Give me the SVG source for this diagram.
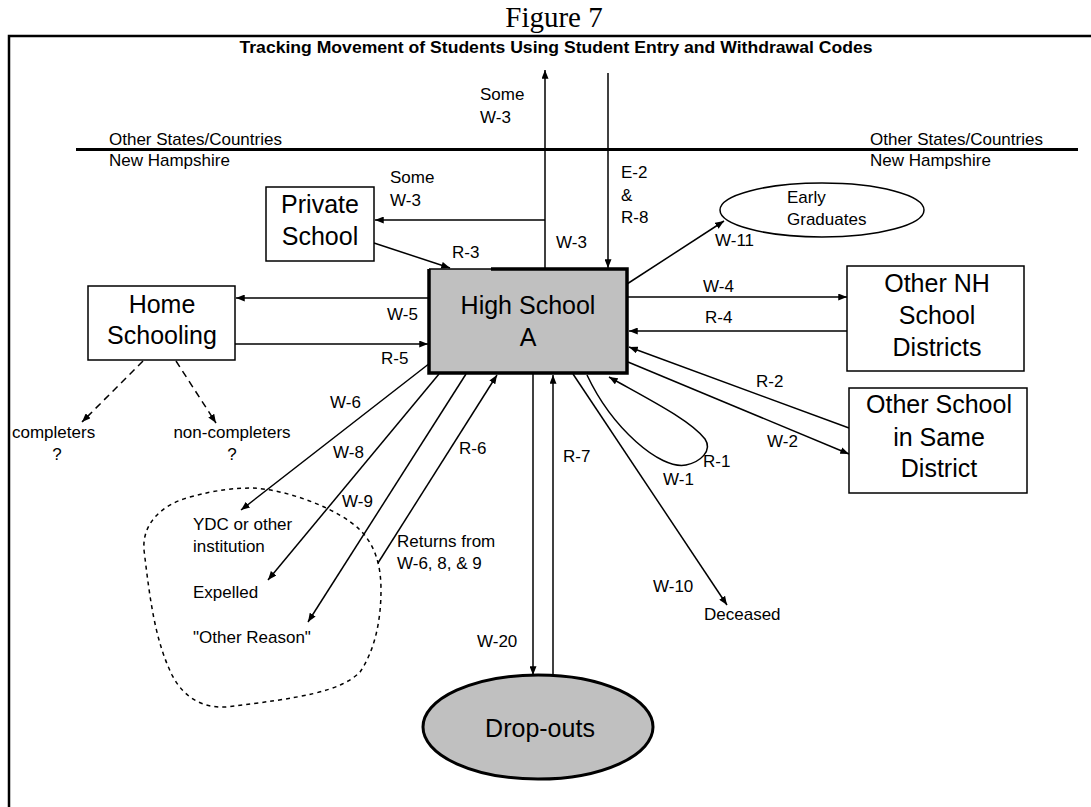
<svg xmlns="http://www.w3.org/2000/svg" width="1091" height="807" viewBox="0 0 1091 807">
<style>
text{font-family:"Liberation Sans",Arial,sans-serif;fill:#000}
.s{font-size:17px}
.b{font-size:25px;text-anchor:middle}
.c{stroke:#000;stroke-width:1.5;fill:none}
.box{fill:#fff;stroke:#000;stroke-width:1.5}
</style>
<defs>
<marker id="ah" viewBox="0 0 10 8" refX="10" refY="4" markerWidth="9" markerHeight="7" markerUnits="userSpaceOnUse" orient="auto"><path d="M0,0 L10,4 L0,8 z" fill="#000"/></marker>
</defs>
<rect width="1091" height="807" fill="#fff"/>
<text x="554" y="27" text-anchor="middle" style="font-family:'Liberation Serif','Times New Roman',serif;font-size:29px">Figure 7</text>
<path d="M9,807 L9,36 L1091,36" stroke="#000" stroke-width="2.5" fill="none"/>
<text x="556" y="53" text-anchor="middle" font-weight="bold" style="font-size:16.5px" textLength="633" lengthAdjust="spacingAndGlyphs">Tracking Movement of Students Using Student Entry and Withdrawal Codes</text>
<line x1="76" y1="149.5" x2="1078" y2="149.5" stroke="#000" stroke-width="3"/>
<text class="s" x="109" y="145">Other States/Countries</text>
<text class="s" x="109" y="166">New Hampshire</text>
<text class="s" x="870" y="145">Other States/Countries</text>
<text class="s" x="870" y="166">New Hampshire</text>

<g id="connectors">
<line class="c" x1="545" y1="269" x2="545" y2="70" marker-end="url(#ah)"/>
<line class="c" x1="608" y1="73" x2="608" y2="268" marker-end="url(#ah)"/>
<line class="c" x1="545" y1="220" x2="375" y2="220" marker-end="url(#ah)"/>
<line class="c" x1="374" y1="243" x2="450" y2="268" marker-end="url(#ah)"/>
<line class="c" x1="429" y1="298" x2="236" y2="298" marker-end="url(#ah)"/>
<line class="c" x1="235" y1="344" x2="428" y2="344" marker-end="url(#ah)"/>
<line class="c" x1="143" y1="361" x2="82" y2="422" stroke-dasharray="7,5" marker-end="url(#ah)"/>
<line class="c" x1="176" y1="361" x2="216" y2="423" stroke-dasharray="7,5" marker-end="url(#ah)"/>
<line class="c" x1="627" y1="284" x2="724" y2="221" marker-end="url(#ah)"/>
<line class="c" x1="627" y1="297" x2="847" y2="297" marker-end="url(#ah)"/>
<line class="c" x1="847" y1="331" x2="629" y2="331" marker-end="url(#ah)"/>
<line class="c" x1="849" y1="428" x2="629" y2="347" marker-end="url(#ah)"/>
<line class="c" x1="628" y1="362" x2="849" y2="454" marker-end="url(#ah)"/>
<path class="c" d="M587,375 C612,428 660,470 686,465 C700,462 713,451 705,439 C690,420 650,400 609,377" marker-end="url(#ah)"/>
<line class="c" x1="573" y1="374" x2="727" y2="605" marker-end="url(#ah)"/>
<line class="c" x1="533" y1="374" x2="533" y2="675" marker-end="url(#ah)"/>
<line class="c" x1="553" y1="676" x2="553" y2="375" marker-end="url(#ah)"/>
<line class="c" x1="378" y1="563" x2="497" y2="375" marker-end="url(#ah)"/>
<line class="c" x1="466" y1="374" x2="308" y2="622" marker-end="url(#ah)"/>
<line class="c" x1="439" y1="374" x2="268" y2="580" marker-end="url(#ah)"/>
<line class="c" x1="430" y1="363" x2="241" y2="510" marker-end="url(#ah)"/>
<path class="c" stroke-width="1" stroke-dasharray="4,4" d="M253,488 C290,490 340,510 360,530 C375,545 381,565 381,590 C381,620 375,650 360,672 C340,692 300,698 226,707 C205,708 185,700 172,675 C155,640 150,600 144,550 C142,525 160,505 190,497 C215,490 235,488 253,488 Z"/>
</g>

<g id="labels">
<text class="s" x="480" y="100">Some</text>
<text class="s" x="480" y="123">W-3</text>
<text class="s" x="390" y="183">Some</text>
<text class="s" x="390" y="206">W-3</text>
<text class="s" x="556" y="248">W-3</text>
<text class="s" x="621" y="178">E-2</text>
<text class="s" x="621" y="201">&amp;</text>
<text class="s" x="621" y="223">R-8</text>
<text class="s" x="452" y="258">R-3</text>
<text class="s" x="387" y="320">W-5</text>
<text class="s" x="381" y="364">R-5</text>
<text class="s" x="715" y="246">W-11</text>
<text class="s" x="703" y="292">W-4</text>
<text class="s" x="705" y="323">R-4</text>
<text class="s" x="756" y="387">R-2</text>
<text class="s" x="767" y="447">W-2</text>
<text class="s" x="703" y="467">R-1</text>
<text class="s" x="663" y="485">W-1</text>
<text class="s" x="653" y="592">W-10</text>
<text class="s" x="563" y="462">R-7</text>
<text class="s" x="459" y="454">R-6</text>
<text class="s" x="477" y="647">W-20</text>
<text class="s" x="330" y="408">W-6</text>
<text class="s" x="333" y="458">W-8</text>
<text class="s" x="342" y="507">W-9</text>
<text class="s" x="397" y="547">Returns from</text>
<text class="s" x="397" y="569">W-6, 8, &amp; 9</text>
<text class="s" x="12" y="438">completers</text>
<text class="s" x="57" y="460" text-anchor="middle">?</text>
<text class="s" x="232" y="438" text-anchor="middle">non-completers</text>
<text class="s" x="232" y="460" text-anchor="middle">?</text>
<text class="s" x="193" y="530">YDC or other</text>
<text class="s" x="193" y="552">institution</text>
<text class="s" x="193" y="598">Expelled</text>
<text class="s" x="193" y="643">"Other Reason"</text>
<text class="s" x="704" y="620">Deceased</text>
</g>

<g id="high-school">
<rect x="429" y="269" width="198" height="104" fill="#c0c0c0"/>
<path d="M429,269 L429,373 L627,373 L627,269 L491,269" stroke="#000" stroke-width="3.5" fill="none"/>
<line x1="429" y1="269" x2="491" y2="269" stroke="#000" stroke-width="1.5"/>
<text class="b" x="528" y="314">High School</text>
<text class="b" x="528" y="346">A</text>
</g>
<g id="private-school">
<rect class="box" x="266" y="187" width="108" height="74"/>
<text class="b" x="320" y="213">Private</text>
<text class="b" x="320" y="245">School</text>
</g>
<g id="home-schooling">
<rect class="box" x="88" y="286" width="147" height="74"/>
<text class="b" x="162" y="313">Home</text>
<text class="b" x="162" y="344">Schooling</text>
</g>
<g id="other-nh">
<rect class="box" x="847" y="266" width="177" height="105"/>
<text class="b" x="937" y="292">Other NH</text>
<text class="b" x="937" y="324">School</text>
<text class="b" x="937" y="356">Districts</text>
</g>
<g id="other-school">
<rect class="box" x="849" y="388" width="178" height="105"/>
<text class="b" x="939" y="413">Other School</text>
<text class="b" x="939" y="446">in Same</text>
<text class="b" x="939" y="477">District</text>
</g>
<g id="early-graduates">
<ellipse cx="822" cy="210" rx="102" ry="27" fill="#fff" stroke="#000" stroke-width="1.5"/>
<text class="s" x="787" y="203">Early</text>
<text class="s" x="787" y="225">Graduates</text>
</g>
<g id="drop-outs">
<ellipse cx="538" cy="727" rx="115" ry="52" fill="#c0c0c0" stroke="#000" stroke-width="3"/>
<text class="b" x="540" y="737">Drop-outs</text>
</g>
</svg>
